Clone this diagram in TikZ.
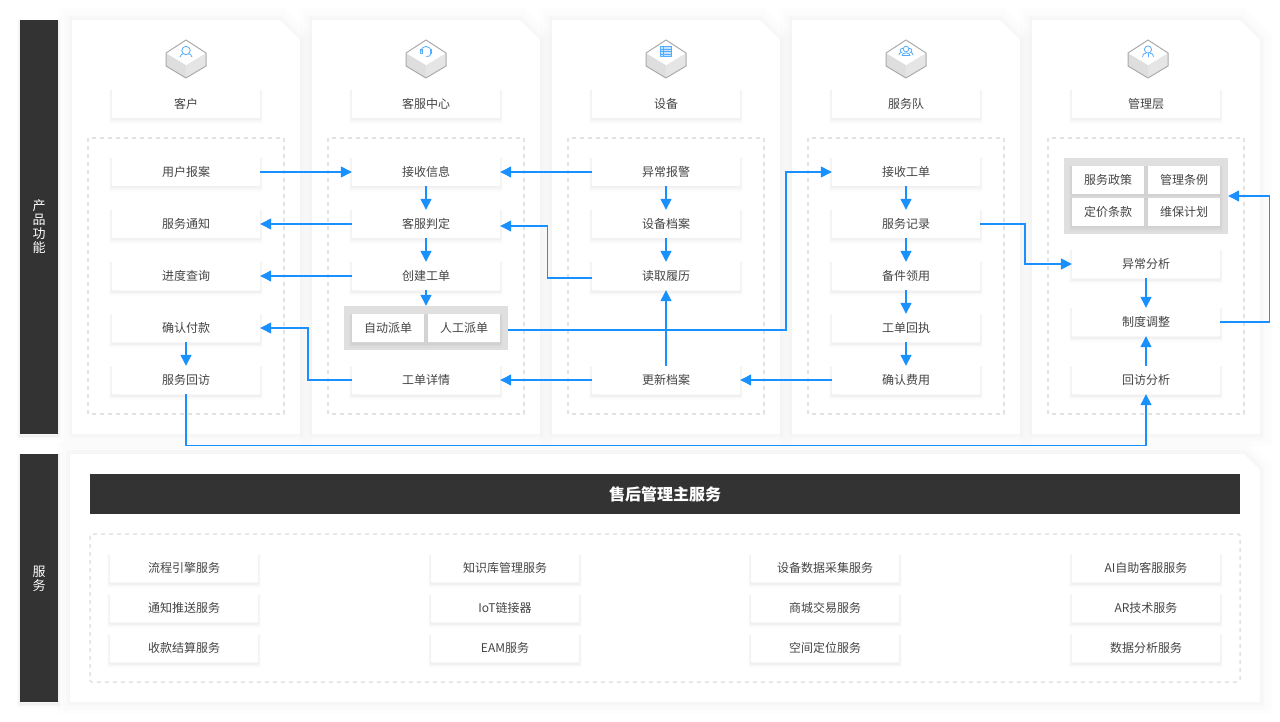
\documentclass[tikz,border=0pt]{standalone}
\usepackage{fontspec}
\setmainfont{Noto Sans CJK SC}
\usetikzlibrary{arrows.meta}
\definecolor{flowblue}{HTML}{1890FF}
\definecolor{inkdark}{HTML}{333333}
\definecolor{inktext}{HTML}{444444}
\definecolor{dashgray}{HTML}{E2E2E2}
\definecolor{groupgray}{HTML}{DFDFDF}
\tikzset{
  softshadow/.style={
    preaction={draw=black,draw opacity=.012,line width=6pt,transform canvas={yshift=-3pt}},
    preaction={draw=black,draw opacity=.018,line width=4pt,transform canvas={yshift=-2.2pt}},
    preaction={draw=black,draw opacity=.025,line width=2pt,transform canvas={yshift=-1.5pt}}},
  panelshadow/.style={
    preaction={draw=black,draw opacity=.006,line width=24pt},
    preaction={draw=black,draw opacity=.008,line width=16pt},
    preaction={draw=black,draw opacity=.01,line width=8pt},
    preaction={draw=black,draw opacity=.012,line width=3pt}},
  panel/.style={fill=white,panelshadow},
  card/.style={softshadow,fill=white,text=inktext,inner sep=0pt,font=\fontsize{12}{14}\selectfont,
    minimum width=148pt,minimum height=28pt,anchor=center},
  minicard/.style={card,minimum width=72pt},
  group/.style={fill=groupgray,inner sep=0pt,anchor=center},
  dashedframe/.style={draw=dashgray,line width=1.5pt,dash pattern=on 4pt off 4pt},
  sidebar/.style={softshadow,fill=inkdark,text=white,inner sep=0pt,minimum width=38pt,align=center,
    font=\fontsize{13}{14}\selectfont,anchor=center},
  flow/.style={draw=flowblue,line width=1.3pt,-{Triangle[length=11pt,width=11pt]}},
  iconline/.style={draw=flowblue!75!white,line width=.8pt,line cap=round,line join=round,fill=none},
}
\newcommand{\isobase}[1]{%
  \begin{scope}[shift={(#1,59)}]
    \fill[white!87!black] (-20,-6) -- (0,6) -- (0,19) -- (-20,7) -- cycle;
    \fill[white!90!black] (20,-6) -- (0,6) -- (0,19) -- (20,7) -- cycle;
    \fill[white] (0,-19) -- (20,-6) -- (0,6) -- (-20,-6) -- cycle;
    \draw[white!67!black,line width=1pt,line join=round] (0,-19) -- (20,-6) -- (20,7) -- (0,19) -- (-20,7) -- (-20,-6) -- cycle;
  \end{scope}}
\begin{document}
\begin{tikzpicture}[x=1pt,y=-1pt]
\useasboundingbox (0,0) rectangle (1280,722);
\fill[white] (0,0) rectangle (1280,722);

% column panels
\foreach \px in {72,312,552,792,1032}{
  \path[panel] (\px,20) -- (\px+208,20) -- (\px+228,40) -- (\px+228,434) -- (\px,434) -- cycle;
  \draw[dashedframe] (\px+16,138) rectangle (\px+212,414);
}
% services panel
\path[panel] (70,454) -- (1244,454) -- (1260,470) -- (1260,702) -- (70,702) -- cycle;
\draw[dashedframe,rounded corners=2pt] (90,534) rectangle (1240,682);

% side bars
\node[sidebar,minimum height=414pt] (sideA) at (39,227) {};
\node[text=white,align=center,font=\fontsize{13}{14}\selectfont] (sideAt) at (39,227) {产\\品\\功\\能};
\node[sidebar,minimum height=248pt] (sideB) at (39,578) {};
\node[text=white,align=center,font=\fontsize{13}{14}\selectfont] (sideBt) at (39,579) {服\\务};

% icons
\isobase{186}\isobase{426}\isobase{666}\isobase{906}\isobase{1148}
% user
\begin{scope}[shift={(186,59)},iconline]
  \draw (0,-8.5) circle (4.2);
  \draw (-6,-2) .. controls (-5.5,-5) and (-3.5,-5) .. (-2.5,-5.2);
  \draw (6,-2) .. controls (5.5,-5) and (3.5,-5) .. (2.5,-5.2);
\end{scope}
% headset
\begin{scope}[shift={(426,59)},iconline]
  \draw (-5,-7) .. controls (-5,-14.5) and (5,-14.5) .. (5,-7);
  \draw (-5.5,-9.5) rectangle (-4,-5.5);
  \draw (4,-9.5) rectangle (5.5,-5.5);
  \draw (5,-5.5) .. controls (5,-3) and (3,-2.5) .. (0.5,-2.5);
\end{scope}
% table
\begin{scope}[shift={(666,59)},iconline]
  \draw[fill=flowblue!25!white] (-5.5,-13) rectangle (5.5,-3);
  \draw (-5.5,-10) -- (5.5,-10) (-5.5,-7.5) -- (5.5,-7.5) (-5.5,-5) -- (5.5,-5) (-2.5,-13) -- (-2.5,-3);
\end{scope}
% team
\begin{scope}[shift={(906,59)},iconline]
  \draw (0,-10) circle (2.8);
  \draw (-3.3,-10.5) .. controls (-6.5,-11) and (-6.5,-6.5) .. (-4,-6.5);
  \draw (3.3,-10.5) .. controls (6.5,-11) and (6.5,-6.5) .. (4,-6.5);
  \draw (-4,-3.5) .. controls (-4,-7) and (4,-7) .. (4,-3.5) -- cycle;
  \draw (-7,-4) .. controls (-7,-5.5) and (-6,-6) .. (-5,-6.5);
  \draw (7,-4) .. controls (7,-5.5) and (6,-6) .. (5,-6.5);
\end{scope}
% manager
\begin{scope}[shift={(1148,59)},iconline]
  \draw (0,-9.5) circle (3.6);
  \draw (-5.5,-2.5) .. controls (-5.5,-5) and (-3.5,-5.5) .. (-2,-5.8);
  \draw (5.5,-2.5) .. controls (5.5,-5) and (3.5,-5.5) .. (2,-5.8);
  \draw (0,-5.5) -- (0,-2);
\end{scope}

% column titles
\node[card] (tA) at (186,104) {客户};
\node[card] (tB) at (426,104) {客服中心};
\node[card] (tC) at (666,104) {设备};
\node[card] (tD) at (906,104) {服务队};
\node[card] (tE) at (1146,104) {管理层};

% customer
\node[card] (a1) at (186,172) {用户报案};
\node[card] (a2) at (186,224) {服务通知};
\node[card] (a3) at (186,276) {进度查询};
\node[card] (a4) at (186,328) {确认付款};
\node[card] (a5) at (186,380) {服务回访};
% service centre
\node[card] (b1) at (426,172) {接收信息};
\node[card] (b2) at (426,224) {客服判定};
\node[card] (b3) at (426,276) {创建工单};
\node[group,minimum width=164pt,minimum height=44pt] (bg) at (426,328) {};
\node[minicard] (b4) at (388,328) {自动派单};
\node[minicard] (b5) at (464,328) {人工派单};
\node[card] (b6) at (426,380) {工单详情};
% equipment
\node[card] (c1) at (666,172) {异常报警};
\node[card] (c2) at (666,224) {设备档案};
\node[card] (c3) at (666,276) {读取履历};
\node[card] (c4) at (666,380) {更新档案};
% team
\node[card] (d1) at (906,172) {接收工单};
\node[card] (d2) at (906,224) {服务记录};
\node[card] (d3) at (906,276) {备件领用};
\node[card] (d4) at (906,328) {工单回执};
\node[card] (d5) at (906,380) {确认费用};
% management
\node[group,minimum width=164pt,minimum height=76pt] (eg) at (1146,196) {};
\node[minicard] (e1) at (1108,180) {服务政策};
\node[minicard] (e2) at (1184,180) {管理条例};
\node[minicard] (e3) at (1108,212) {定价条款};
\node[minicard] (e4) at (1184,212) {维保计划};
\node[card] (e5) at (1146,264) {异常分析};
\node[card] (e6) at (1146,322) {制度调整};
\node[card] (e7) at (1146,380) {回访分析};

% services
\node[fill=inkdark,text=white,minimum width=1150pt,minimum height=40pt,inner sep=0pt,font=\fontsize{16}{18}\selectfont\bfseries] (main) at (665,494) {售后管理主服务};
\node[card] (s11) at (184,568) {流程引擎服务};
\node[card] (s12) at (184,608) {通知推送服务};
\node[card] (s13) at (184,648) {收款结算服务};
\node[card] (s21) at (505,568) {知识库管理服务};
\node[card] (s22) at (505,608) {IoT链接器};
\node[card] (s23) at (505,648) {EAM服务};
\node[card] (s31) at (825,568) {设备数据采集服务};
\node[card] (s32) at (825,608) {商城交易服务};
\node[card] (s33) at (825,648) {空间定位服务};
\node[card] (s41) at (1146,568) {AI自助客服服务};
\node[card] (s42) at (1146,608) {AR技术服务};
\node[card] (s43) at (1146,648) {数据分析服务};

% connectors
\draw[flow] (a1) -- (b1);
\draw[flow] (c1) -- (b1);
\draw[flow] (b1) -- (b2);
\draw[flow] (b2) -- (b3);
\draw[flow] (b2) -- (a2);
\draw[flow] (b3) -- (a3);
\draw[flow] (b3) -- (bg);
\draw[flow] ([yshift=-2pt]c3.west) -- ++(-44,0) |- ([yshift=-2pt]b2.east);
\draw[flow] ([yshift=-2pt]bg.east) -- (786,330) |- (d1.west);
\draw[flow] (b6.west) -- (308,380) |- (a4.east);
\draw[flow] (c4) -- (b6);
\draw[flow] (c4) -- (c3);
\draw[flow] (c1) -- (c2);
\draw[flow] (c2) -- (c3);
\draw[flow] (d5) -- (c4);
\draw[flow] (d1) -- (d2);
\draw[flow] (d2) -- (d3);
\draw[flow] (d3) -- (d4);
\draw[flow] (d4) -- (d5);
\draw[flow] (a4) -- (a5);
\draw[flow] (a5.south) -- ++(0,51) -| (e7.south);
\draw[flow] (e7) -- (e6);
\draw[flow] (e5) -- (e6);
\draw[flow] (e6.east) -- (1269.5,322) |- (eg.east);
\draw[flow] (d2.east) -- (1025,224) |- (e5.west);
\end{tikzpicture}
\end{document}
